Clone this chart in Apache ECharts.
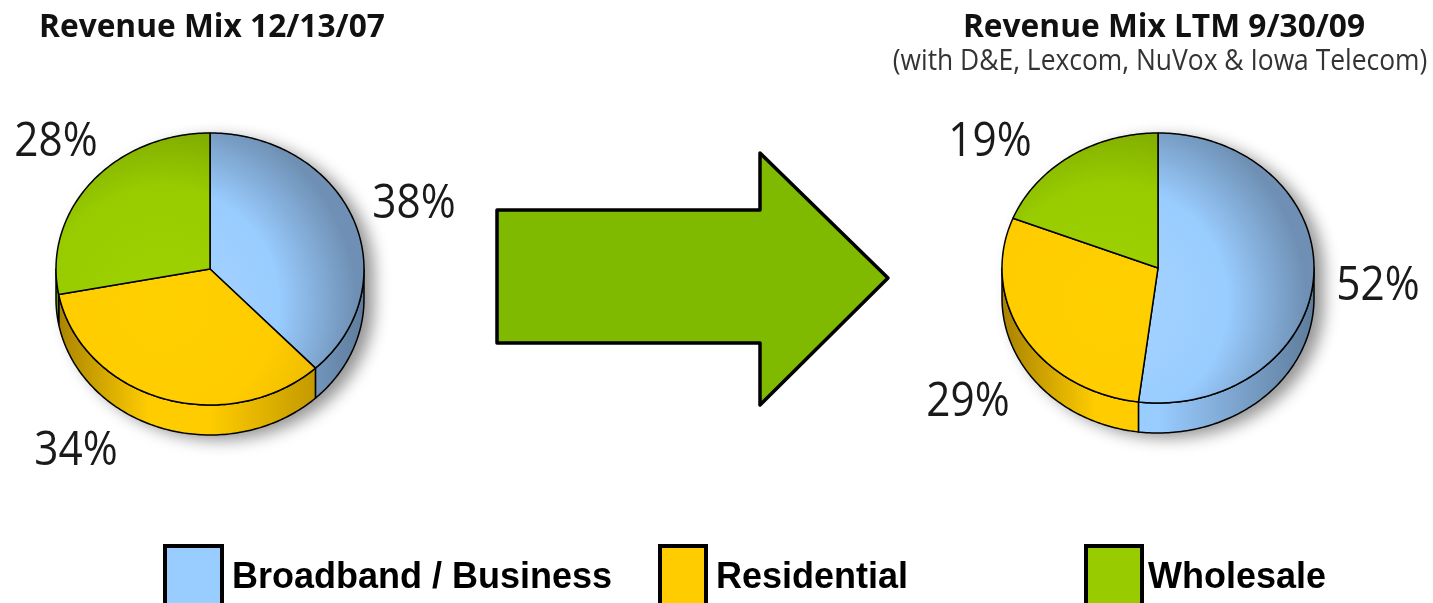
<!DOCTYPE html>
<html>
<head>
<meta charset="utf-8">
<title>Revenue Mix</title>
<script src="https://cdn.jsdelivr.net/npm/echarts@6/dist/echarts.min.js"></script>
<style>
  html, body { margin: 0; padding: 0; background: #ffffff; }
  #chart { width: 1433px; height: 603px; }
</style>
</head>
<body>
<div id="chart"></div>
<script>
// Revenue segments and their shares (percent) at each date
const categories = ['Broadband / Business', 'Residential', 'Wholesale'];
const mix2007 = [38, 34, 28];
const mix2009 = [52, 29, 19];
const pieTitles = ['Revenue Mix 12/13/07', 'Revenue Mix LTM 9/30/09'];
const pieSubtitle = '(with D&E, Lexcom, NuVox & Iowa Telecom)';

// Segment colours: top face base, lit centre, rim shade, side-wall shade
const palette = [
  { base: '#99CCFF', light: '#a6d4ff', rim: '#6f90b4', side: '#5f7c9c' },
  { base: '#FFCC00', light: '#ffd000', rim: '#e6b400', side: '#a88200' },
  { base: '#99CC00', light: '#9fd200', rim: '#78a200', side: '#6c9000' }
];

// Drawing geometry of the two tilted pies and their label anchors
const pieLayout = [
  { cx: 210, cy: 269, rx: 154, ry: 136, depth: 30,
    labels: [[414, 205], [76, 452], [56, 143]] },
  { cx: 1158, cy: 268, rx: 156, ry: 135, depth: 30,
    labels: [[1378, 287], [968, 403], [990, 143]] }
];

// Cumulative start/end (percent) for each slice, clockwise from 12 o'clock
function sliceRows(values) {
  const rows = [];
  let acc = 0;
  values.forEach(function (v, i) {
    rows.push([acc, acc + v, v, i]);
    acc += v;
  });
  return rows;
}

function ellPoint(p, deg, dy) {
  const t = deg * Math.PI / 180;
  return [p.cx + p.rx * Math.sin(t), p.cy - p.ry * Math.cos(t) + dy];
}

function arcPoints(p, a, b, dy) {
  const pts = [];
  const n = Math.max(2, Math.ceil(Math.abs(b - a)));
  for (let k = 0; k <= n; k++) pts.push(ellPoint(p, a + (b - a) * k / n, dy));
  return pts;
}

function renderSlice(params, api) {
  const p = pieLayout[params.seriesIndex];
  const a = api.value(0) / 100 * 360;
  const b = api.value(1) / 100 * 360;
  const v = api.value(2);
  const c = palette[api.value(3)];
  const children = [];

  // whole-pie silhouette casting the soft drop shadow
  if (params.dataIndex === 0) {
    const outline = arcPoints(p, -90, 90, 0).concat(arcPoints(p, 90, 270, p.depth));
    children.push({
      type: 'polygon', z2: 0,
      shape: { points: outline },
      style: { fill: '#ffffff', shadowBlur: 16, shadowOffsetX: 10, shadowOffsetY: 5,
               shadowColor: 'rgba(0,0,0,0.42)' }
    });
  }

  // visible outer wall (front half of the pie)
  const sa = Math.max(a, 90), sb = Math.min(b, 270);
  if (sb > sa) {
    const wall = arcPoints(p, sa, sb, 0).concat(arcPoints(p, sb, sa, p.depth));
    children.push({
      type: 'polygon', z2: 1,
      shape: { points: wall },
      style: {
        fill: new echarts.graphic.LinearGradient(p.cx - p.rx, 0, p.cx + p.rx, 0, [
          { offset: 0, color: c.side },
          { offset: 0.3, color: c.base },
          { offset: 0.5, color: c.base },
          { offset: 1, color: c.side }
        ], true),
        stroke: '#000', lineWidth: 1.5, lineJoin: 'round'
      }
    });
  }

  // top face of the slice
  const top = [[p.cx, p.cy]].concat(arcPoints(p, a, b, 0));
  children.push({
    type: 'polygon', z2: 2,
    shape: { points: top },
    style: {
      fill: new echarts.graphic.RadialGradient(p.cx - p.rx * 0.3, p.cy + p.ry * 0.25, p.rx * 1.25, [
        { offset: 0, color: c.light },
        { offset: 0.6, color: c.base },
        { offset: 1, color: c.rim }
      ], true),
      stroke: '#000', lineWidth: 1.5, lineJoin: 'round'
    }
  });

  // percentage label
  const lp = p.labels[api.value(3)];
  children.push({
    type: 'text', z2: 3,
    x: lp[0], y: lp[1], scaleX: 0.9,
    style: {
      text: v + '%', fontFamily: '"Open Sans", sans-serif', fontSize: 47,
      fill: '#1a1a1a', align: 'center', verticalAlign: 'middle'
    }
  });

  return { type: 'group', children: children };
}

const chart = echarts.init(document.getElementById('chart'), null, { renderer: 'canvas' });

const legendBoxes = [
  { x: 165, w: 57, tx: 232 },
  { x: 660, w: 46, tx: 716 },
  { x: 1086, w: 56, tx: 1148 }
];

const graphics = [
  // titles
  { type: 'text', x: 39, y: 11, scaleX: 0.96,
    style: { text: pieTitles[0], fontFamily: '"Open Sans", sans-serif', fontWeight: 'bold',
             fontSize: 33, fill: '#111', align: 'left', verticalAlign: 'top' } },
  { type: 'text', x: 1164, y: 11, scaleX: 0.96,
    style: { text: pieTitles[1], fontFamily: '"Open Sans", sans-serif', fontWeight: 'bold',
             fontSize: 33, fill: '#111', align: 'center', verticalAlign: 'top' } },
  { type: 'text', x: 1160, y: 46, scaleX: 0.88,
    style: { text: pieSubtitle, fontFamily: '"Open Sans", sans-serif',
             fontSize: 30, fill: '#333', align: 'center', verticalAlign: 'top' } },
  // transition arrow
  { type: 'polygon', z: 10,
    shape: { points: [[497, 210], [760, 210], [760, 153], [888, 278], [760, 405], [760, 343], [497, 343]] },
    style: { fill: '#7FBA00', stroke: '#000', lineWidth: 3.5, lineJoin: 'round' } }
];

legendBoxes.forEach(function (lb, i) {
  graphics.push({
    type: 'rect', shape: { x: lb.x, y: 546, width: lb.w, height: 70 },
    style: { fill: palette[i].base, stroke: '#000', lineWidth: 4 }
  });
  graphics.push({
    type: 'text', x: lb.tx, y: 560,
    style: { text: categories[i], fontFamily: '"Liberation Sans", Arial, sans-serif',
             fontWeight: 'bold', fontSize: 36, fill: '#000', align: 'left', verticalAlign: 'top' }
  });
});

chart.setOption({
  backgroundColor: '#ffffff',
  animation: false,
  graphic: graphics,
  series: [
    { type: 'custom', name: pieTitles[0], coordinateSystem: 'none',
      renderItem: renderSlice, data: sliceRows(mix2007), silent: true },
    { type: 'custom', name: pieTitles[1], coordinateSystem: 'none',
      renderItem: renderSlice, data: sliceRows(mix2009), silent: true }
  ]
});
</script>
</body>
</html>
